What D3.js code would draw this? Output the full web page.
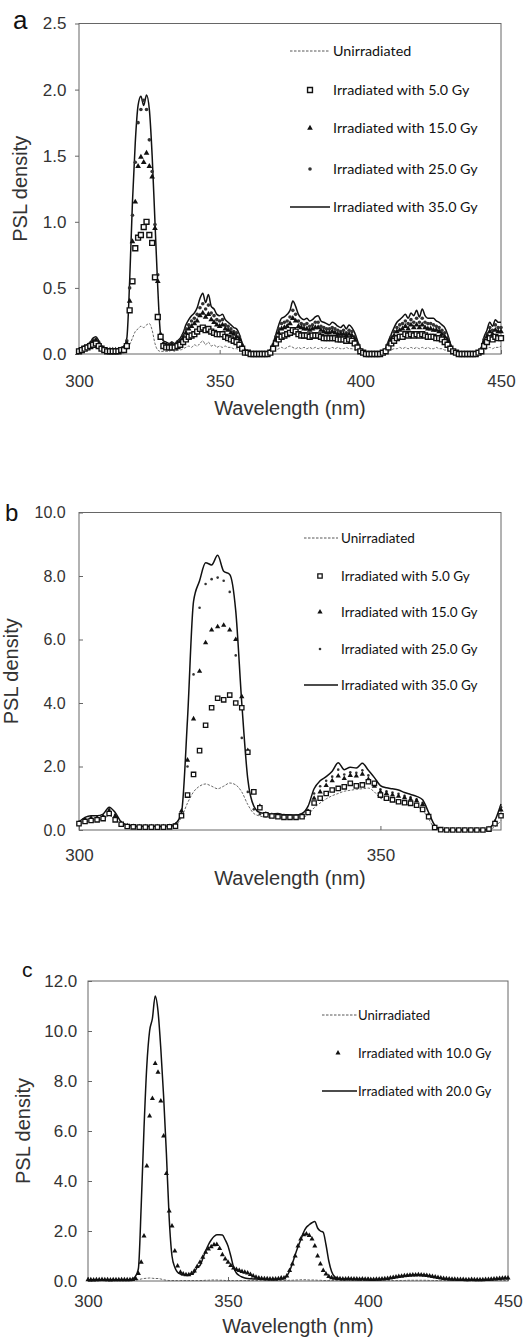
<!DOCTYPE html>
<html>
<head>
<meta charset="utf-8">
<script src="https://cdn.jsdelivr.net/npm/d3@7"></script>
<style>
body { margin: 0; background: #fff; }
</style>
</head>
<body>
<div id="chart"></div>
<script>
// ---- panel a : 300-450 nm, 1 nm steps ----
var aWave = d3.range(300, 451);
var a0 = [0.02,0.02,0.03,0.03,0.04,0.05,0.05,0.04,0.03,0.02,
  0.02,0.02,0.02,0.02,0.02,0.02,0.02,0.03,0.07,0.12,
  0.17,0.19,0.21,0.20,0.22,0.23,0.18,0.08,0.03,0.02,
  0.02,0.02,0.02,0.03,0.02,0.03,0.03,0.04,0.05,0.06,
  0.05,0.07,0.06,0.08,0.10,0.07,0.09,0.06,0.07,0.05,
  0.06,0.05,0.06,0.05,0.05,0.04,0.04,0.03,0.02,0.01,
  0.01,0,0,0,0,0,0,0,0.01,0.02,
  0.03,0.04,0.05,0.04,0.05,0.06,0.05,0.04,0.05,0.04,
  0.05,0.04,0.05,0.04,0.05,0.04,0.05,0.04,0.05,0.04,
  0.05,0.04,0.05,0.04,0.04,0.05,0.04,0.04,0.03,0.02,
  0.01,0.01,0,0,0,0,0,0,0.01,0.01,
  0.02,0.03,0.04,0.04,0.05,0.04,0.05,0.04,0.05,0.04,
  0.05,0.04,0.05,0.04,0.05,0.04,0.04,0.05,0.04,0.04,
  0.03,0.03,0.02,0.01,0.01,0,0,0,0,0,
  0,0,0.01,0.01,0.03,0.04,0.05,0.04,0.05,0.05,
  0.06];
var a5 = [0.02,0.03,0.04,0.05,0.06,0.07,0.08,0.06,0.04,0.03,
  0.02,0.02,0.02,0.02,0.02,0.03,0.03,0.06,0.33,0.55,
  0.80,0.88,0.90,0.96,1.00,0.90,0.84,0.58,0.28,0.13,
  0.06,0.05,0.05,0.05,0.05,0.06,0.07,0.09,0.11,0.13,
  0.14,0.15,0.17,0.19,0.20,0.18,0.19,0.17,0.16,0.15,
  0.15,0.15,0.13,0.12,0.11,0.10,0.09,0.07,0.04,0.01,
  0.01,0,0,0,0,0,0,0,0.01,0.04,
  0.08,0.11,0.13,0.14,0.15,0.16,0.18,0.17,0.15,0.14,
  0.14,0.14,0.13,0.14,0.14,0.14,0.13,0.12,0.12,0.12,
  0.12,0.12,0.11,0.11,0.11,0.10,0.11,0.10,0.08,0.05,
  0.02,0.01,0,0,0,0,0,0,0.01,0.02,
  0.05,0.08,0.10,0.12,0.13,0.13,0.15,0.14,0.15,0.14,
  0.15,0.14,0.15,0.14,0.13,0.13,0.13,0.12,0.12,0.11,
  0.09,0.07,0.04,0.02,0.01,0,0,0,0,0,
  0,0,0.01,0.02,0.06,0.09,0.12,0.11,0.13,0.12,
  0.12];
var a15 = [0.02,0.04,0.05,0.06,0.07,0.09,0.10,0.08,0.05,0.03,
  0.03,0.03,0.03,0.03,0.03,0.03,0.04,0.08,0.40,0.85,
  1.15,1.42,1.49,1.45,1.52,1.42,1.34,0.95,0.55,0.14,
  0.07,0.06,0.06,0.07,0.06,0.08,0.09,0.12,0.16,0.19,
  0.21,0.23,0.25,0.29,0.31,0.28,0.30,0.26,0.24,0.22,
  0.21,0.22,0.19,0.18,0.16,0.15,0.13,0.11,0.06,0.02,
  0.01,0,0,0,0,0,0,0,0.02,0.06,
  0.11,0.16,0.19,0.20,0.21,0.23,0.27,0.25,0.21,0.20,
  0.19,0.19,0.18,0.19,0.20,0.20,0.18,0.17,0.16,0.16,
  0.17,0.16,0.15,0.15,0.15,0.14,0.15,0.14,0.11,0.07,
  0.03,0.01,0,0,0,0,0,0,0.01,0.03,
  0.07,0.11,0.14,0.17,0.18,0.19,0.21,0.19,0.22,0.20,
  0.22,0.20,0.22,0.20,0.19,0.19,0.18,0.18,0.17,0.15,
  0.13,0.10,0.05,0.02,0.01,0,0,0,0,0,
  0,0,0.01,0.03,0.09,0.13,0.17,0.15,0.18,0.17,
  0.17];
var a25 = [0.03,0.04,0.05,0.06,0.08,0.10,0.11,0.09,0.05,0.04,
  0.03,0.03,0.03,0.03,0.03,0.04,0.05,0.10,0.50,1.05,
  1.45,1.75,1.85,1.92,1.85,1.62,1.38,0.98,0.60,0.15,
  0.08,0.07,0.07,0.08,0.07,0.09,0.10,0.14,0.19,0.22,
  0.25,0.27,0.30,0.35,0.38,0.34,0.37,0.31,0.29,0.26,
  0.25,0.26,0.22,0.21,0.19,0.17,0.16,0.13,0.07,0.02,
  0.01,0,0,0,0,0,0,0,0.02,0.07,
  0.13,0.19,0.23,0.24,0.25,0.28,0.33,0.30,0.25,0.23,
  0.22,0.23,0.21,0.22,0.24,0.24,0.21,0.20,0.19,0.19,
  0.20,0.19,0.18,0.17,0.18,0.16,0.18,0.17,0.13,0.08,
  0.03,0.01,0,0,0,0,0,0,0.01,0.03,
  0.08,0.13,0.17,0.20,0.22,0.23,0.25,0.23,0.26,0.24,
  0.27,0.24,0.27,0.24,0.23,0.23,0.22,0.21,0.20,0.18,
  0.16,0.12,0.06,0.02,0.01,0,0,0,0,0,
  0,0,0.01,0.04,0.11,0.15,0.20,0.18,0.22,0.20,
  0.20];
var a35 = [0.03,0.05,0.06,0.07,0.09,0.12,0.13,0.10,0.06,0.04,
  0.04,0.04,0.04,0.04,0.04,0.05,0.06,0.12,0.55,1.15,
  1.60,1.88,1.95,1.88,1.96,1.85,1.50,1.00,0.50,0.15,
  0.10,0.09,0.08,0.09,0.08,0.10,0.12,0.16,0.22,0.26,
  0.29,0.31,0.35,0.42,0.46,0.39,0.45,0.36,0.34,0.30,
  0.29,0.30,0.26,0.24,0.22,0.20,0.19,0.15,0.08,0.03,
  0.01,0,0,0,0,0,0,0.01,0.03,0.08,
  0.15,0.22,0.27,0.28,0.30,0.33,0.40,0.36,0.30,0.27,
  0.26,0.27,0.25,0.26,0.28,0.29,0.25,0.24,0.23,0.22,
  0.24,0.23,0.21,0.20,0.22,0.19,0.22,0.20,0.16,0.10,
  0.04,0.01,0,0,0,0,0,0,0.01,0.04,
  0.10,0.15,0.20,0.24,0.26,0.28,0.30,0.27,0.31,0.29,
  0.33,0.28,0.34,0.29,0.27,0.27,0.27,0.25,0.24,0.22,
  0.20,0.15,0.08,0.03,0.01,0,0,0,0,0,
  0,0,0.01,0.05,0.13,0.18,0.24,0.21,0.26,0.24,
  0.24];
var aLabels = ["Unirradiated", "Irradiated with 5.0 Gy", "Irradiated with 15.0 Gy",
  "Irradiated with 25.0 Gy", "Irradiated with 35.0 Gy"];
var aYTicks = [0, 0.5, 1, 1.5, 2, 2.5];
var aXTicks = [300, 350, 400, 450];

// ---- panel b : 300-370 nm, 1 nm steps ----
var bWave = d3.range(300, 371);
var b0 = [0.20,0.25,0.30,0.32,0.35,0.45,0.35,0.20,0.13,0.10,
  0.10,0.10,0.10,0.10,0.10,0.10,0.15,0.40,0.85,1.20,
  1.38,1.45,1.38,1.30,1.38,1.48,1.42,1.20,0.80,0.52,
  0.44,0.40,0.38,0.38,0.37,0.37,0.38,0.40,0.48,0.70,
  0.85,0.98,1.08,1.15,1.22,1.25,1.28,1.30,1.32,1.20,
  1.00,0.95,0.90,0.86,0.82,0.78,0.74,0.62,0.35,0.06,
  0.01,0,0,0,0,0,0,0,0.02,0.10,
  0.30];
var b5 = [0.20,0.27,0.30,0.32,0.36,0.52,0.32,0.18,0.11,0.10,
  0.09,0.09,0.09,0.09,0.09,0.10,0.12,0.45,1.10,1.75,
  2.50,3.30,3.85,4.15,4.10,4.25,4.00,3.85,2.45,1.20,
  0.70,0.48,0.44,0.42,0.40,0.40,0.40,0.42,0.55,0.85,
  1.00,1.15,1.26,1.31,1.36,1.47,1.39,1.42,1.52,1.47,
  1.10,1.00,0.95,0.89,0.86,0.84,0.78,0.65,0.42,0.08,
  0.01,0,0,0,0,0,0,0,0.03,0.20,
  0.45];
var b15 = [0.22,0.32,0.36,0.37,0.42,0.60,0.44,0.20,0.13,0.11,
  0.10,0.10,0.10,0.10,0.10,0.11,0.16,0.60,2.20,3.50,
  5.00,5.90,6.30,6.40,6.45,6.30,6.00,4.20,2.50,1.20,
  0.75,0.50,0.46,0.45,0.43,0.42,0.42,0.45,0.58,1.00,
  1.20,1.40,1.55,1.70,1.62,1.72,1.70,1.76,1.60,1.38,
  1.20,1.15,1.10,1.06,1.02,0.97,0.92,0.80,0.45,0.10,
  0.01,0,0,0,0,0,0,0,0.04,0.25,
  0.63];
var b25 = [0.24,0.35,0.40,0.40,0.45,0.65,0.48,0.22,0.14,0.12,
  0.11,0.11,0.11,0.11,0.11,0.12,0.18,0.45,2.00,4.90,
  7.00,7.75,7.90,7.95,7.85,7.50,5.50,2.90,1.20,0.65,
  0.50,0.48,0.47,0.48,0.45,0.45,0.44,0.48,0.62,1.15,
  1.38,1.55,1.68,1.90,1.75,1.82,1.80,1.88,1.72,1.50,
  1.28,1.22,1.18,1.14,1.08,1.03,0.97,0.86,0.50,0.12,
  0.02,0,0,0,0,0,0,0,0.04,0.28,
  0.72];
var b35 = [0.26,0.40,0.45,0.45,0.50,0.72,0.55,0.25,0.16,0.13,
  0.12,0.12,0.12,0.12,0.12,0.13,0.20,0.55,3.50,7.20,
  7.85,8.42,8.35,8.65,8.15,8.05,6.90,4.00,1.60,0.75,
  0.55,0.52,0.50,0.52,0.48,0.48,0.47,0.52,0.75,1.30,
  1.55,1.68,1.85,2.12,1.90,1.98,1.95,2.10,1.88,1.65,
  1.40,1.33,1.30,1.26,1.18,1.12,1.06,0.95,0.55,0.15,
  0.02,0,0,0,0,0,0,0,0.05,0.30,
  0.82];
var bLabels = aLabels;
var bYTicks = [0, 2, 4, 6, 8, 10];
var bXTicks = [300, 350];

// ---- panel c : 300-450 nm, 1 nm steps ----
var cWave = d3.range(300, 451);
var c0 = [0.02,0.02,0.02,0.02,0.02,0.02,0.02,0.02,0.02,0.02,
  0.02,0.02,0.02,0.02,0.02,0.02,0.02,0.03,0.05,0.08,
  0.10,0.11,0.12,0.11,0.10,0.10,0.08,0.05,0.03,0.02,
  0.02,0.02,0.02,0.02,0.02,0.02,0.02,0.02,0.02,0.02,
  0.02,0.02,0.03,0.03,0.04,0.04,0.04,0.03,0.03,0.02,
  0.02,0.02,0.02,0.02,0.02,0.02,0.02,0.02,0.02,0.02,
  0.02,0.02,0.02,0.02,0.02,0.02,0.02,0.02,0.02,0.02,
  0.02,0.02,0.03,0.03,0.04,0.04,0.05,0.05,0.05,0.04,
  0.04,0.04,0.03,0.03,0.02,0.02,0.02,0.02,0.02,0.02,
  0.02,0.02,0.02,0.02,0.02,0.02,0.02,0.02,0.02,0.02,
  0.02,0.02,0.02,0.02,0.02,0.02,0.02,0.02,0.02,0.02,
  0.02,0.02,0.02,0.02,0.03,0.03,0.03,0.03,0.03,0.03,
  0.03,0.03,0.02,0.02,0.02,0.02,0.02,0.02,0.02,0.02,
  0.02,0.02,0.02,0.02,0.02,0.02,0.02,0.02,0.02,0.02,
  0.02,0.02,0.02,0.02,0.02,0.02,0.02,0.02,0.02,0.02,
  0.02];
var c10 = [0.05,0.05,0.04,0.05,0.05,0.06,0.05,0.05,0.04,0.05,
  0.05,0.05,0.05,0.05,0.05,0.05,0.06,0.10,0.30,0.75,
  1.80,4.60,6.60,7.30,8.70,8.35,7.20,5.80,4.30,2.80,
  2.20,1.20,0.60,0.35,0.28,0.25,0.25,0.30,0.40,0.58,
  0.75,0.95,1.15,1.28,1.37,1.45,1.46,1.30,1.05,0.88,
  0.75,0.62,0.52,0.46,0.42,0.38,0.35,0.32,0.26,0.20,
  0.15,0.12,0.10,0.09,0.09,0.08,0.08,0.08,0.09,0.12,
  0.12,0.20,0.42,0.68,1.00,1.40,1.68,1.85,1.88,1.82,
  1.68,1.40,1.00,0.68,0.42,0.28,0.18,0.13,0.11,0.10,
  0.09,0.08,0.08,0.09,0.08,0.08,0.08,0.07,0.08,0.07,
  0.07,0.06,0.06,0.07,0.07,0.08,0.09,0.10,0.12,0.14,
  0.16,0.18,0.19,0.21,0.22,0.23,0.24,0.24,0.25,0.24,
  0.23,0.22,0.20,0.18,0.16,0.14,0.12,0.10,0.09,0.08,
  0.07,0.07,0.06,0.06,0.06,0.05,0.05,0.06,0.05,0.05,
  0.05,0.05,0.06,0.06,0.07,0.08,0.09,0.10,0.11,0.12,
  0.12];
var c20 = [0.05,0.05,0.05,0.05,0.05,0.05,0.05,0.05,0.05,0.05,
  0.05,0.05,0.05,0.05,0.05,0.05,0.08,0.20,0.50,3.00,
  6.10,8.60,10.00,10.50,11.40,10.80,9.30,7.40,5.10,2.50,
  1.00,0.55,0.35,0.28,0.25,0.24,0.25,0.28,0.35,0.55,
  0.62,0.90,1.20,1.45,1.64,1.78,1.85,1.85,1.84,1.65,
  1.40,1.00,0.55,0.32,0.22,0.16,0.12,0.10,0.09,0.08,
  0.08,0.07,0.07,0.06,0.06,0.06,0.06,0.06,0.07,0.08,
  0.10,0.20,0.40,0.70,1.05,1.37,1.65,1.95,2.15,2.25,
  2.33,2.38,2.12,2.00,1.95,1.45,0.80,0.38,0.18,0.12,
  0.08,0.08,0.08,0.08,0.08,0.07,0.07,0.07,0.07,0.07,
  0.06,0.06,0.06,0.06,0.06,0.07,0.08,0.09,0.11,0.13,
  0.15,0.17,0.19,0.20,0.22,0.23,0.24,0.25,0.25,0.24,
  0.24,0.22,0.20,0.18,0.15,0.13,0.11,0.09,0.08,0.07,
  0.06,0.06,0.05,0.05,0.05,0.05,0.05,0.05,0.05,0.05,
  0.05,0.05,0.05,0.05,0.06,0.07,0.08,0.09,0.10,0.10,
  0.10];
var cLabels = ["Unirradiated", "Irradiated with 10.0 Gy", "Irradiated with 20.0 Gy"];
var cYTicks = [0, 2, 4, 6, 8, 10, 12];
var cXTicks = [300, 350, 400, 450];

var FONT = "'Liberation Sans', Arial, Helvetica, sans-serif";
var LEGEND_FONT = "Lato, 'Open Sans', sans-serif";

var svg = d3.select("#chart").append("svg")
    .attr("width", 532)
    .attr("height", 1338);

var panels = [
  {letter: "a", letterX: 13, letterY: 29, letterSize: 26,
   wave: aWave, xDomain: [300, 450], yDomain: [0, 2.5],
   x0: 79, x1: 501, y0: 23.5, y1: 354,
   xTicks: aXTicks, yTicks: aYTicks, yTickSize: 4, yPad: 8.5, yFont: 17, xPad: 20.5,
   titleY: 415, ylabX: 26.5,
   labels: aLabels, legText: 333, legSym: 310, legLine: [290, 330], legRows: [51, 90, 128, 169, 207], legFont: 14.3,
   series: [{v: a0, k: "dash", l: 0}, {v: a35, k: "line", l: 4}, {v: a25, k: "dot", l: 3},
            {v: a15, k: "tri", l: 2}, {v: a5, k: "sq", l: 1}],
   sq: 24, sqw: 1.4, tri: 14, dot: 1.8},
  {letter: "b", letterX: 5, letterY: 521, letterSize: 24,
   wave: bWave, xDomain: [300, 370], yDomain: [0, 10],
   x0: 79, x1: 501, y0: 512.5, y1: 830,
   xTicks: bXTicks, yTicks: bYTicks, yTickSize: -4, yPad: 13.3, yFont: 16, xPad: 18.6,
   titleY: 885, ylabX: 18,
   labels: bLabels, legText: 341, legSym: 320, legLine: [304, 338], legRows: [538, 576, 612, 649, 685], legFont: 13.5,
   series: [{v: b0, k: "dash", l: 0}, {v: b35, k: "line", l: 4}, {v: b25, k: "dot", l: 3},
            {v: b15, k: "tri", l: 2}, {v: b5, k: "sq", l: 1}],
   sq: 19, sqw: 1.3, tri: 12, dot: 1.3},
  {letter: "c", letterX: 22, letterY: 977, letterSize: 21,
   wave: cWave, xDomain: [300, 450], yDomain: [0, 12],
   x0: 88, x1: 508, y0: 981, y1: 1281,
   xTicks: cXTicks, yTicks: cYTicks, yTickSize: -4, yPad: 10.7, yFont: 17, xPad: 13.6,
   titleY: 1333, ylabX: 29.5,
   labels: cLabels, legText: 358, legSym: 338, legLine: [322, 357], legRows: [1015, 1053, 1091], legFont: 13.2,
   series: [{v: c0, k: "dash", l: 0}, {v: c20, k: "line", l: 2}, {v: c10, k: "tri", l: 1}],
   sq: 16, sqw: 1.2, tri: 11, dot: 1.2}
];

var bad = [];

function marker(sel, kind, p) {
  if (kind == "sq") {
    sel.attr("d", d3.symbol().type(d3.symbolSquare).size(p.sq))
      .attr("fill", "#fff").attr("stroke", "#111").attr("stroke-width", p.sqw);
  } else if (kind == "tri") {
    sel.attr("d", d3.symbol().type(d3.symbolTriangle).size(p.tri))
      .attr("fill", "#111");
  } else {
    sel.attr("d", d3.symbol().type(d3.symbolCircle).size(Math.PI * p.dot * p.dot))
      .attr("fill", "#333");
  }
}

function drawPanel(p) {
  var g = svg.append("g");
  var x = d3.scaleLinear().domain(p.xDomain).range([p.x0, p.x1]);
  var y = d3.scaleLinear().domain(p.yDomain).range([p.y1, p.y0]);

  g.append("rect")
    .attr("x", p.x0).attr("y", p.y0)
    .attr("width", p.x1 - p.x0).attr("height", p.y1 - p.y0)
    .attr("fill", "none").attr("stroke", "#666").attr("stroke-width", 1);

  var ya = g.append("g")
    .attr("transform", "translate(" + p.x0 + ",0)")
    .call(d3.axisLeft(y).tickValues(p.yTicks).tickFormat(d3.format(".1f"))
      .tickSize(p.yTickSize).tickPadding(p.yPad));
  ya.select(".domain").remove();
  ya.selectAll("line").attr("stroke", "#666");
  ya.selectAll("text").attr("font-size", p.yFont).attr("font-family", FONT).attr("fill", "#333");

  var xa = g.append("g")
    .attr("transform", "translate(0," + p.y1 + ")")
    .call(d3.axisBottom(x).tickValues(p.xTicks).tickFormat(d3.format("d"))
      .tickSize(-4).tickPadding(p.xPad));
  xa.select(".domain").remove();
  xa.selectAll("line").attr("stroke", "#666");
  xa.selectAll("text").attr("font-size", 17).attr("font-family", FONT).attr("fill", "#333");

  g.append("text")
    .attr("x", (p.x0 + p.x1) / 2).attr("y", p.titleY)
    .attr("text-anchor", "middle")
    .attr("font-family", FONT).attr("font-size", 20).attr("fill", "#333")
    .text("Wavelength (nm)");

  g.append("text")
    .attr("transform", "translate(" + p.ylabX + "," + (p.y0 + p.y1) / 2 + ") rotate(-90)")
    .attr("text-anchor", "middle")
    .attr("font-family", FONT).attr("font-size", 20).attr("fill", "#333")
    .text("PSL density");

  g.append("text")
    .attr("x", p.letterX).attr("y", p.letterY)
    .attr("font-family", FONT).attr("font-size", p.letterSize).attr("fill", "#111")
    .text(p.letter);

  p.series.forEach(function(s) {
    if (s.v.length != p.wave.length) bad.push(p.letter + s.l + ":" + s.v.length);
    var line = d3.line()
      .x(function(d, i) { return x(p.wave[i]); })
      .y(function(d) { return y(d); })
      .curve(d3.curveMonotoneX);
    if (s.k == "dash") {
      g.append("path").datum(s.v).attr("d", line)
        .attr("fill", "none").attr("stroke", "#555").attr("stroke-width", 0.9)
        .attr("stroke-dasharray", "2.5,1.5");
    } else if (s.k == "line") {
      g.append("path").datum(s.v).attr("d", line)
        .attr("fill", "none").attr("stroke", "#111").attr("stroke-width", 1.5);
    } else {
      g.append("g").selectAll("path")
        .data(s.v)
        .enter()
        .append("path")
        .attr("transform", function(d, i) {
          return "translate(" + x(p.wave[i]) + "," + y(d) + ")";
        })
        .call(marker, s.k, p);
    }
  });

  // legend
  var leg = g.append("g");
  p.labels.forEach(function(lab, i) {
    var row = p.legRows[i];
    leg.append("text")
      .attr("x", p.legText).attr("y", row).attr("dy", "0.36em")
      .attr("font-family", LEGEND_FONT).attr("font-size", p.legFont).attr("fill", "#111")
      .text(lab);
  });
  p.series.forEach(function(s) {
    var row = p.legRows[s.l];
    if (s.k == "dash") {
      leg.append("line").attr("x1", p.legLine[0]).attr("x2", p.legLine[1])
        .attr("y1", row).attr("y2", row)
        .attr("stroke", "#444").attr("stroke-width", 0.9).attr("stroke-dasharray", "2.5,1.5");
    } else if (s.k == "line") {
      leg.append("line").attr("x1", p.legLine[0]).attr("x2", p.legLine[1])
        .attr("y1", row).attr("y2", row)
        .attr("stroke", "#111").attr("stroke-width", 1.5);
    } else {
      leg.append("path")
        .attr("transform", "translate(" + p.legSym + "," + row + ")")
        .call(marker, s.k, p);
    }
  });
}

panels.forEach(drawPanel);

if (bad.length) throw new Error("length mismatch " + bad.join(" "));
</script>
</body>
</html>
